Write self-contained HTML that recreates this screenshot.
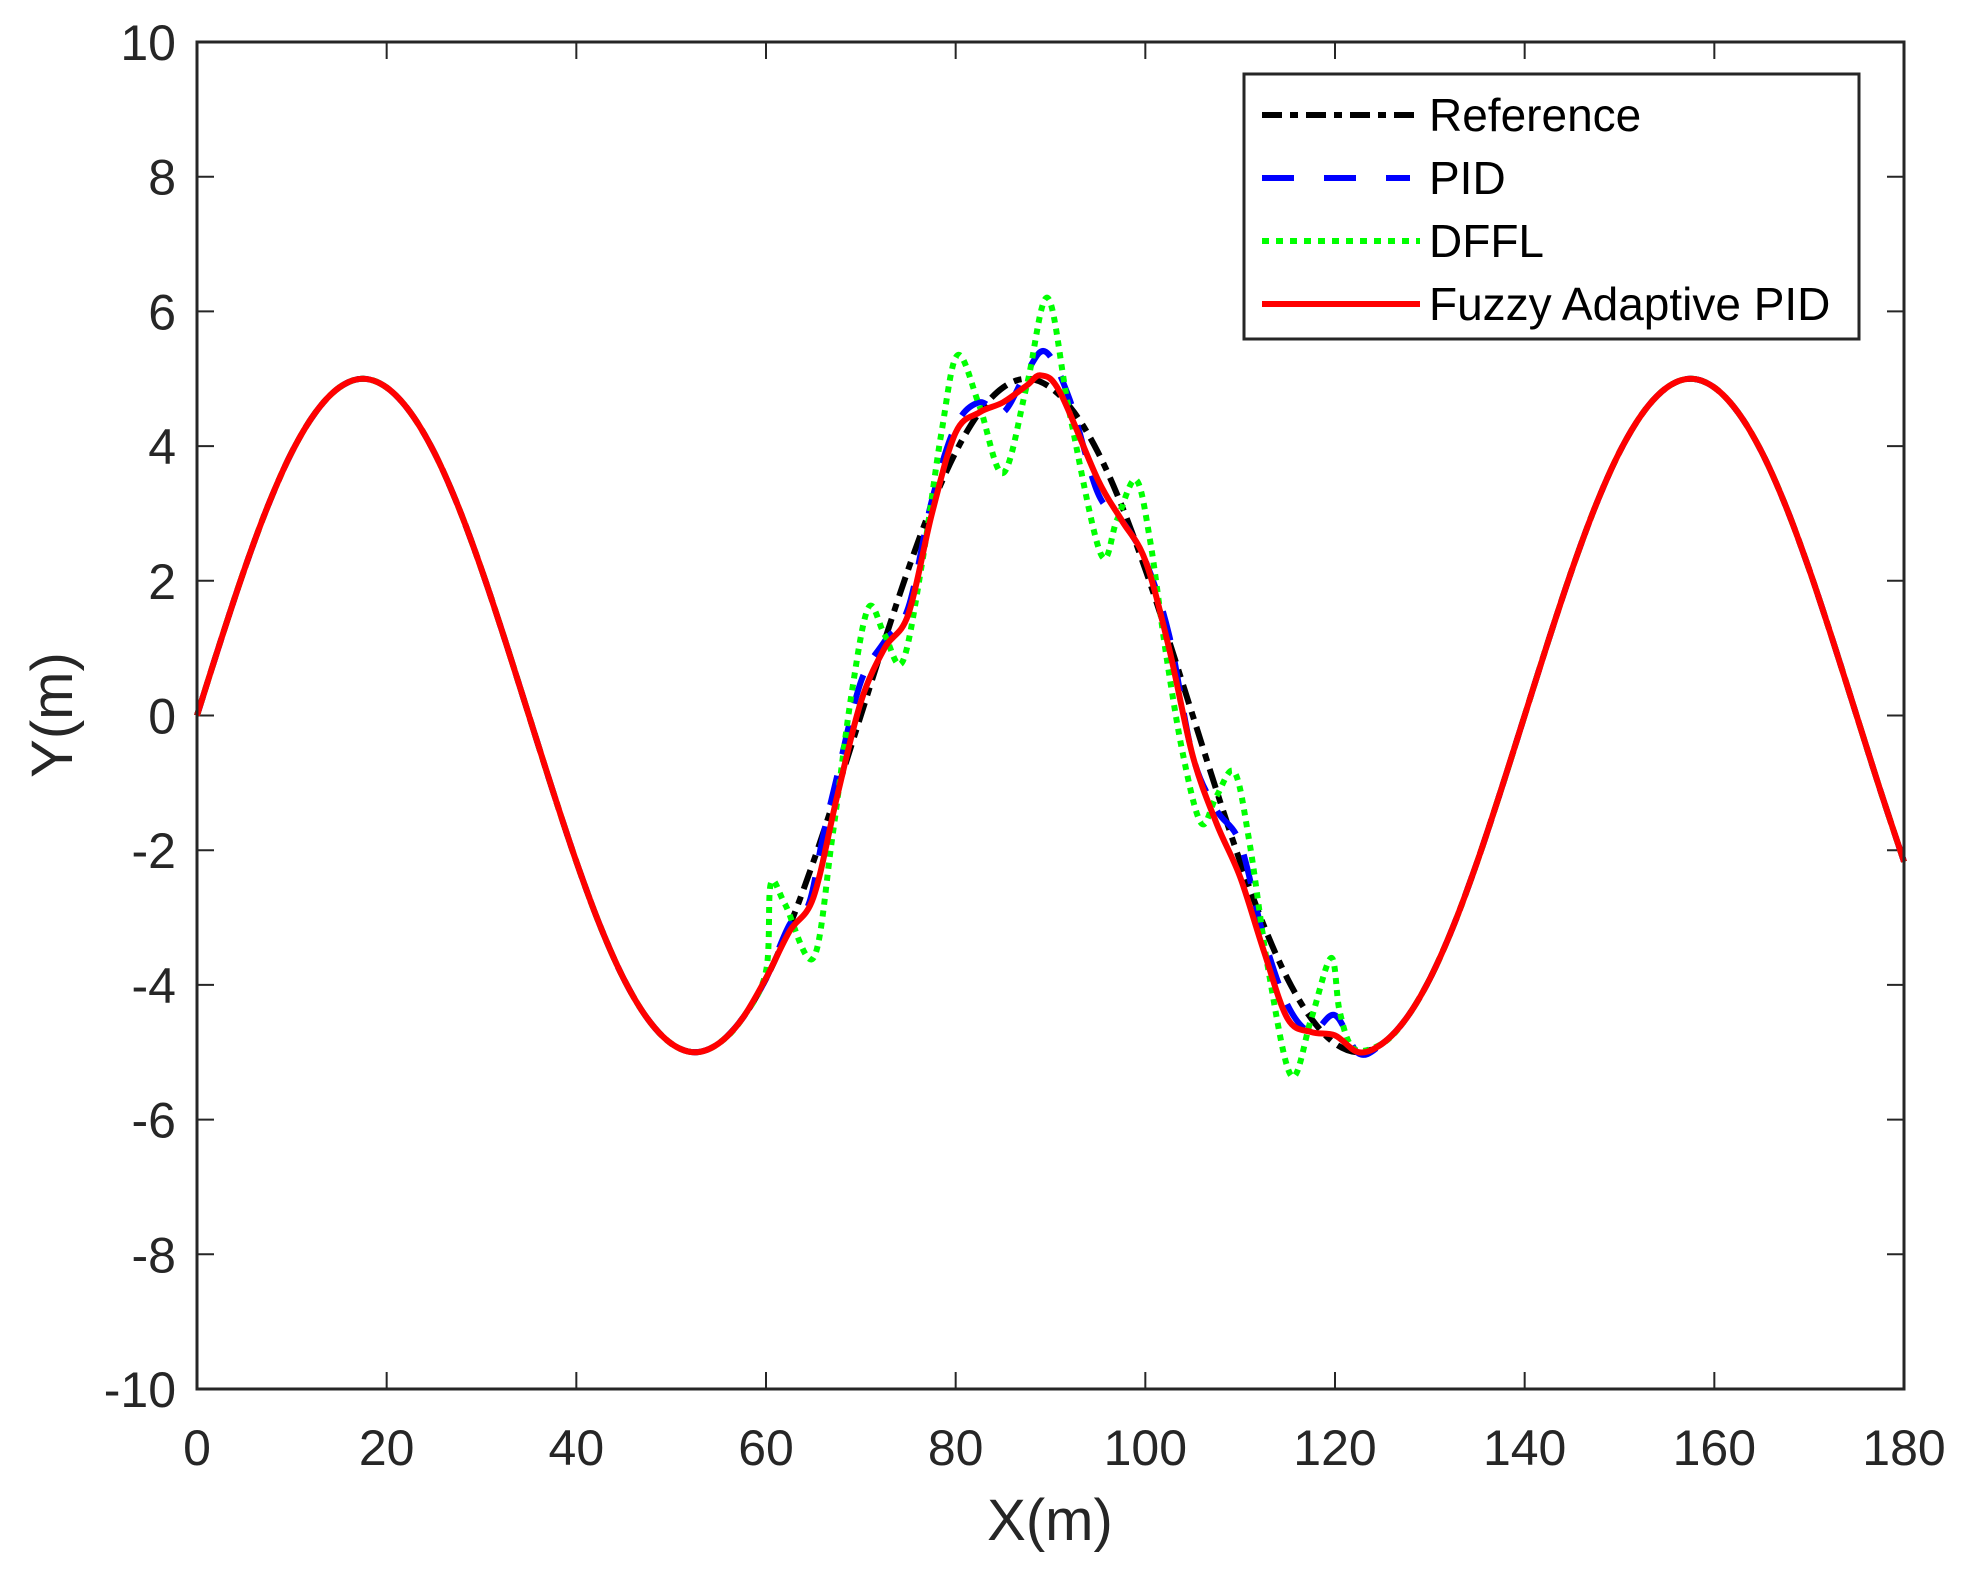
<!DOCTYPE html>
<html><head><meta charset="utf-8"><style>
html,body{margin:0;padding:0;background:#fff;}
svg{display:block;font-family:"Liberation Sans",Arial,sans-serif;}
</style></head><body>
<svg id="chart" width="1968" height="1579" viewBox="0 0 1968 1579" xmlns="http://www.w3.org/2000/svg">
<rect width="1968" height="1579" fill="#fff"/>
<g id="ticks"></g>
<g id="series"></g>
<rect x="197" y="42" width="1707" height="1347" fill="none" stroke="#262626" stroke-width="3"/>
<text transform="translate(72,715) rotate(-90)" text-anchor="middle" font-size="58" fill="#262626">Y(m)</text>
<text x="1050" y="1540" text-anchor="middle" font-size="58" fill="#262626">X(m)</text>
<g>
<rect x="1244" y="74" width="615" height="265" fill="#fff" stroke="#262626" stroke-width="3"/>
<g>
<line x1="1262" y1="115" x2="1420" y2="115" stroke="#000" stroke-width="6" stroke-dasharray="20,8,8,8"/>
<text x="1429" y="131" font-size="46" fill="#000">Reference</text></g>
<g>
<line x1="1262" y1="178" x2="1410" y2="178" stroke="#0000ff" stroke-width="6" stroke-dasharray="32,30"/>
<text x="1429" y="194" font-size="46" fill="#000">PID</text></g>
<g>
<line x1="1262" y1="241" x2="1420" y2="241" stroke="#00ff00" stroke-width="6" stroke-dasharray="7,7"/>
<text x="1429" y="257" font-size="46" fill="#000">DFFL</text></g>
<g>
<line x1="1262" y1="304" x2="1420" y2="304" stroke="#ff0000" stroke-width="6"/>
<text x="1429" y="320" font-size="46" fill="#000">Fuzzy Adaptive PID</text></g>
</g>
</svg>
<script>
const xTicks = [0,20,40,60,80,100,120,140,160,180];
const yTicks = [-10,-8,-6,-4,-2,0,2,4,6,8,10];
const refY = [0,1.11,2.17,3.12,3.91,4.50,4.87,5,4.87,4.50,3.91,3.12,2.17,1.11,0,-1.11,-2.17,-3.12,-3.91,-4.50,-4.87,-5,-4.87,-4.50,-3.91,-3.12,-2.17,-1.11,
0,1.11,2.17,3.12,3.91,4.50,4.87,5,4.87,4.50,3.91,3.12,2.17,1.11,0,-1.11,-2.17,-3.12,-3.91,-4.50,-4.87,-5,-4.87,-4.50,-3.91,-3.12,-2.17,-1.11,
0,1.11,2.17,3.12,3.91,4.50,4.87,5,4.87,4.50,3.91,3.12,2.17,1.11,0,-1.11,-2.17];
const refStep = 2.5;
const pidMidX = [60,62.5,64.5,66,67.5,70,72.5,75,77.5,80,82.5,85,87.5,89.5,92,95,97.5,100,102.5,105,107.5,110,112.5,115,117.5,120,122.5,125];
const pidMidY = [-3.91,-3.1,-2.8,-1.8,-0.9,0.5,1.1,1.6,3.2,4.3,4.65,4.5,5.1,5.4,4.7,3.3,2.9,2.3,1.2,-0.6,-1.4,-1.9,-3.3,-4.3,-4.7,-4.45,-5.02,-4.87];
const dfflMidX = [60,60.5,62,65,67,69,70.8,72.5,74.4,76.5,78.5,80.2,82.5,85,87.5,89.7,92,95.3,97,99,100.5,102.2,104,105.9,107.5,109.4,111,113,115.4,117.5,119.6,120.5,122,125];
const dfflMidY = [-3.8,-2.5,-2.8,-3.6,-1.8,0.3,1.6,1.2,0.8,2.3,4.2,5.35,4.6,3.6,4.9,6.2,4.5,2.4,2.9,3.5,2.6,0.9,-0.6,-1.6,-1.2,-0.84,-1.9,-3.8,-5.35,-4.5,-3.6,-4.4,-4.95,-4.87];
const fuzzyMidX = [60,62.5,65,67.5,70,72.5,75,77.5,80,82.5,85,87.5,89,91,95,97.5,100,102.5,105,107.5,110,112.5,115,117.5,120,122.5,125];
const fuzzyMidY = [-3.9,-3.2,-2.7,-1.2,0.2,1.0,1.5,3.0,4.2,4.5,4.65,4.9,5.05,4.8,3.5,2.9,2.3,1.0,-0.6,-1.6,-2.4,-3.5,-4.5,-4.7,-4.75,-5.0,-4.87];

const L=197,R=1904,T=42,B=1389;
const sx=x=>L+(x-0)/(180-0)*(R-L);
const sy=y=>B-(y+10)/20*(B-T);
const NS='http://www.w3.org/2000/svg';
const tg=document.getElementById('ticks');
function mk(tag,attrs,parent){const e=document.createElementNS(NS,tag);for(const k in attrs)e.setAttribute(k,attrs[k]);parent.appendChild(e);return e;}
xTicks.forEach(v=>{
  const X=sx(v);
  const t1=mk('line',{x1:X,y1:B,x2:X,y2:B-17,stroke:'#262626','stroke-width':2},tg);
  
  
  const t2=mk('line',{x1:X,y1:T,x2:X,y2:T+17,stroke:'#262626','stroke-width':2},tg);
  
  
  const tx=mk('text',{x:X,y:1465,'text-anchor':'middle','font-size':50,fill:'#262626'},tg);
  tx.textContent=v;
  
  
});
yTicks.forEach(v=>{
  const Y=sy(v);
  const t1=mk('line',{x1:L,y1:Y,x2:L+17,y2:Y,stroke:'#262626','stroke-width':2},tg);
  
  
  const t2=mk('line',{x1:R,y1:Y,x2:R-17,y2:Y,stroke:'#262626','stroke-width':2},tg);
  
  
  const tx=mk('text',{x:176,y:Y+18,'text-anchor':'end','font-size':50,fill:'#262626'},tg);
  tx.textContent=v;
  
  
});
function refPts(){return refY.map((y,i)=>[i*refStep,y]);}
function merge(mx,my){
  const pts=refPts().filter(p=>p[0]<mx[0]||p[0]>mx[mx.length-1]);
  mx.forEach((x,i)=>pts.push([x,my[i]]));
  pts.sort((a,b)=>a[0]-b[0]);
  return pts;
}
function path(pts){
  const P=pts.map(p=>[sx(p[0]),sy(p[1])]);
  let d='M'+P[0][0]+','+P[0][1];
  for(let i=0;i<P.length-1;i++){
    const p0=P[Math.max(0,i-1)],p1=P[i],p2=P[i+1],p3=P[Math.min(P.length-1,i+2)];
    const c1=[p1[0]+(p2[0]-p0[0])/6,p1[1]+(p2[1]-p0[1])/6];
    const c2=[p2[0]-(p3[0]-p1[0])/6,p2[1]-(p3[1]-p1[1])/6];
    d+=' C'+c1[0]+','+c1[1]+' '+c2[0]+','+c2[1]+' '+p2[0]+','+p2[1];
  }
  return d;
}
const sg=document.getElementById('series');
const s1=mk('path',{d:path(refPts()),fill:'none',stroke:'#000','stroke-width':6,'stroke-dasharray':'20,8,8,8'},sg);


const s2=mk('path',{d:path(merge(pidMidX,pidMidY)),fill:'none',stroke:'#0000ff','stroke-width':6,'stroke-dasharray':'30,22'},sg);


const s3=mk('path',{d:path(merge(dfflMidX,dfflMidY)),fill:'none',stroke:'#00ff00','stroke-width':6,'stroke-dasharray':'6,6'},sg);


const s4=mk('path',{d:path(merge(fuzzyMidX,fuzzyMidY)),fill:'none',stroke:'#ff0000','stroke-width':6},sg);


</script>
</body></html>
